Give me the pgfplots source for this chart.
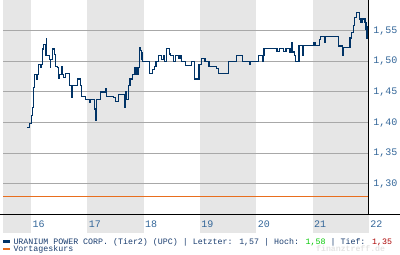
\documentclass[border=0pt]{standalone}
\usepackage{pgfplots}
\pgfplotsset{compat=1.18}
\usepackage{pgfplotstable}
\usepackage{fontspec}
\setmainfont{Liberation Mono}
\definecolor{linec}{RGB}{0,51,102}
\definecolor{tickc}{RGB}{51,102,153}
\definecolor{bandc}{RGB}{230,230,230}
\definecolor{gridc}{RGB}{168,168,168}
\definecolor{orangec}{RGB}{232,110,30}
\definecolor{legc}{RGB}{25,60,110}
\definecolor{hochc}{RGB}{0,200,0}
\definecolor{tiefc}{RGB}{170,0,0}
\definecolor{wmc}{RGB}{228,228,228}
\pgfplotstableread{
x y
15.929 1.392
15.964 1.398
16.000 1.411
16.018 1.424
16.041 1.457
16.059 1.479
16.098 1.471
16.107 1.479
16.137 1.495
16.165 1.490
16.178 1.495
16.208 1.520
16.225 1.528
16.249 1.510
16.266 1.537
16.279 1.510
16.320 1.503
16.337 1.490
16.350 1.503
16.385 1.520
16.414 1.511
16.431 1.492
16.467 1.490
16.485 1.472
16.497 1.479
16.538 1.491
16.550 1.479
16.573 1.473
16.609 1.480
16.680 1.461
16.723 1.441
16.733 1.461
16.822 1.471
16.870 1.460
16.888 1.443
16.959 1.437
17.035 1.433
17.053 1.437
17.124 1.422
17.149 1.404
17.166 1.438
17.225 1.450
17.319 1.456
17.344 1.443
17.461 1.441
17.491 1.435
17.550 1.446
17.656 1.424
17.674 1.450
17.686 1.438
17.727 1.461
17.757 1.471
17.805 1.479
17.846 1.490
17.869 1.479
17.882 1.490
17.894 1.479
17.905 1.490
17.923 1.523
17.947 1.517
17.958 1.503
17.970 1.514
17.983 1.500
18.095 1.480
18.160 1.487
18.189 1.491
18.219 1.500
18.260 1.509
18.308 1.503
18.349 1.509
18.366 1.500
18.397 1.521
18.455 1.512
18.480 1.509
18.526 1.500
18.569 1.509
18.615 1.504
18.645 1.509
18.675 1.500
18.746 1.493
18.853 1.500
18.894 1.471
18.982 1.495
19.030 1.504
19.089 1.500
19.160 1.491
19.297 1.488
19.325 1.480
19.503 1.500
19.652 1.510
19.751 1.500
19.875 1.495
19.888 1.500
20.035 1.509
20.106 1.500
20.119 1.509
20.136 1.521
20.367 1.516
20.408 1.521
20.479 1.516
20.527 1.521
20.598 1.515
20.628 1.530
20.646 1.515
20.674 1.509
20.692 1.500
20.758 1.526
20.816 1.510
20.829 1.526
21.012 1.530
21.042 1.526
21.118 1.536
21.143 1.540
21.219 1.530
21.232 1.540
21.462 1.525
21.533 1.510
21.544 1.522
21.663 1.538
21.693 1.547
21.722 1.558
21.739 1.571
21.782 1.580
21.828 1.569
21.858 1.563
21.876 1.569
21.929 1.563
21.947 1.552
21.959 1.537
21.970 1.556
21.995 1.556
}\pricedata
\begin{document}
\begin{tikzpicture}
\begin{axis}[
  set layers,
  at={(0pt,0pt)}, anchor=south west,
  scale only axis, width=366pt, height=214.5pt,
  xmin=15.5, xmax=22, ymin=1.25, ymax=1.60,
  clip=false,
  axis x line=bottom, axis y line=right,
  axis line style={draw=none},
  major tick length=0pt,
  tick style={draw=none},
  xtick={16,17,18,19,20,21,22},
  ytick={1.30,1.35,1.40,1.45,1.50,1.55},
  ymajorgrids,
  grid style={gridc, line width=1pt},
  /pgf/number format/assume math mode=true,
  yticklabel={\pgfmathprintnumber[fixed,fixed zerofill,precision=2,use comma]{\tick}},
  xticklabel={\pgfmathprintnumber[int detect]{\tick}},
  ticklabel style={font=\fontsize{10}{12}\selectfont, text=tickc},
  xticklabel style={anchor=north west, inner sep=0pt, xshift=1.2pt, yshift=-6.3pt},
  yticklabel style={anchor=west, inner sep=0pt, xshift=4.3pt},
]
\begin{pgfonlayer}{axis background}
\fill[bandc] (axis cs:15.5,1.219) rectangle (axis cs:16,1.60);
\fill[bandc] (axis cs:17,1.219) rectangle (axis cs:18,1.60);
\fill[bandc] (axis cs:19,1.219) rectangle (axis cs:20,1.60);
\fill[bandc] (axis cs:21,1.219) rectangle (axis cs:22,1.60);
\end{pgfonlayer}
\addplot[orangec, line width=1.1pt] coordinates {(15.5,1.28) (22,1.28)};
\addplot[linec, line width=1.2pt, const plot, mark=none] table[x=x,y=y] {\pricedata};
\draw[black, line width=1pt] (rel axis cs:1,0) -- (rel axis cs:1,1);
\draw[black, line width=1.2pt] ([xshift=-3pt]rel axis cs:0,0) -- ([xshift=31pt]rel axis cs:1,0);
\end{axis}
\fill[linec] (-0.3pt,-28.6pt) rectangle (7pt,-26pt);
\fill[orangec] (-0.3pt,-36pt) rectangle (7pt,-33.4pt);
\node[anchor=base west, inner sep=0pt, font=\fontsize{8.3}{10}\selectfont, text=legc] at (10.3pt,-29.7pt)
  {URANIUM POWER CORP. (Tier2) (UPC) | Letzter: 1,57 | Hoch: \textcolor{hochc}{1,58} | Tief: \textcolor{tiefc}{1,35}};
\node[anchor=base west, inner sep=0pt, font=\fontsize{8.3}{10}\selectfont, text=legc] at (10.3pt,-36.8pt) {Vortageskurs};
\node[anchor=base west, inner sep=0pt, font=\fontsize{8.2}{10}\selectfont\bfseries, text=wmc] at (313pt,-37pt) {finanztreff.de};
\pgfresetboundingbox
\path[use as bounding box] (-3pt,-40pt) rectangle (397pt,214.5pt);
\end{tikzpicture}
\end{document}
